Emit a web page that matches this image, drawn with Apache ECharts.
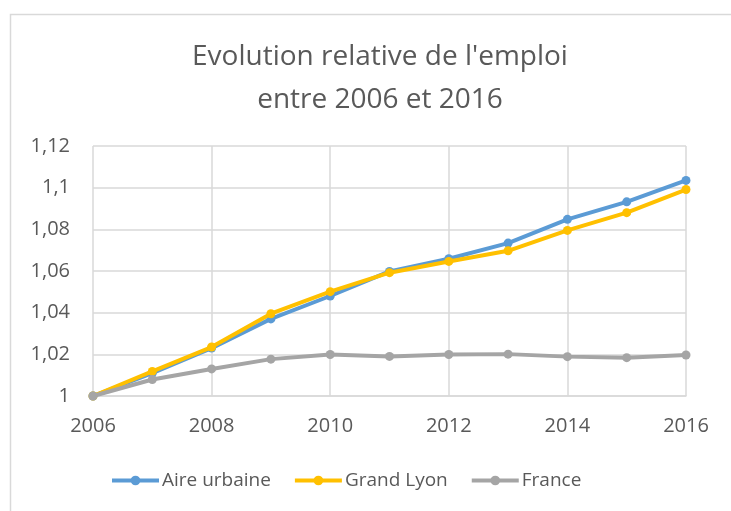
<!DOCTYPE html>
<html>
<head>
<meta charset="utf-8">
<script src="https://cdn.jsdelivr.net/npm/echarts@6/dist/echarts.min.js"></script>
<style>
  html, body { margin: 0; padding: 0; background: #fff; }
  #chart { width: 731px; height: 511px; }
</style>
</head>
<body>
<div id="chart"></div>
<script>
// Relative employment index (base 2006 = 1)
const years = [2006, 2007, 2008, 2009, 2010, 2011, 2012, 2013, 2014, 2015, 2016];
const aireUrbaine = [1, 1.011, 1.023, 1.037, 1.048, 1.0598, 1.0659, 1.0734, 1.0848, 1.0932, 1.1035];
const grandLyon   = [1, 1.0118, 1.0235, 1.0395, 1.0501, 1.0592, 1.0646, 1.0697, 1.0795, 1.088, 1.0991];
const france      = [1, 1.0079, 1.013, 1.0177, 1.0199, 1.019, 1.0199, 1.0201, 1.0189, 1.0184, 1.0197];
const seriesNames = ['Aire urbaine', 'Grand Lyon', 'France'];
const seriesColors = ['#5B9BD5', '#FFC000', '#A5A5A5'];

const FONT = '"Open Sans", sans-serif';
const TEXT = '#595959';

const chart = echarts.init(document.getElementById('chart'), null, { renderer: 'canvas' });

function pairs(vals) {
  return years.map((y, i) => [y, vals[i]]);
}

const seriesData = [aireUrbaine, grandLyon, france];

chart.setOption({
  animation: false,
  backgroundColor: '#fff',
  graphic: [{
    type: 'rect',
    shape: { x: 10.5, y: 14.5, width: 760, height: 520 },
    style: { fill: 'none', stroke: '#d9d9d9', lineWidth: 1.5 },
    silent: true
  }],
  title: {
    text: "Evolution relative de l'emploi\nentre 2006 et 2016",
    left: 375,
    textAlign: 'center',
    top: 31,
    textStyle: {
      fontFamily: FONT,
      fontSize: 28,
      fontWeight: 'normal',
      color: TEXT,
      lineHeight: 43
    }
  },
  grid: { left: 93, right: 45, top: 146, bottom: 115, containLabel: false },
  xAxis: {
    type: 'value',
    min: 2006,
    max: 2016,
    interval: 2,
    axisLine: { show: true, lineStyle: { color: '#d9d9d9', width: 1.5 } },
    axisTick: { show: false },
    splitLine: { show: true, lineStyle: { color: '#d9d9d9', width: 1.5 } },
    axisLabel: { fontFamily: FONT, fontSize: 20, color: TEXT, margin: 20, formatter: v => String(v) }
  },
  yAxis: {
    type: 'value',
    min: 1,
    max: 1.12,
    interval: 0.02,
    axisLine: { show: false },
    axisTick: { show: false },
    splitLine: { show: true, lineStyle: { color: '#d9d9d9', width: 1.5 } },
    axisLabel: {
      fontFamily: FONT, fontSize: 20, color: TEXT, margin: 23,
      formatter: v => String(Number(v.toFixed(2))).replace('.', ',')
    }
  },
  legend: {
    bottom: 16,
    left: 105,
    itemWidth: 47,
    itemHeight: 12,
    itemGap: 22,
    lineStyle: { width: 4 },
    textStyle: { fontFamily: FONT, fontSize: 19, color: TEXT, padding: [0, 0, 0, -2] },
    data: seriesNames
  },
  series: seriesNames.map((name, i) => ({
    name,
    type: 'line',
    data: pairs(seriesData[i]),
    color: seriesColors[i],
    symbol: 'circle',
    symbolSize: 9,
    lineStyle: { width: 4, color: seriesColors[i] },
    itemStyle: { color: seriesColors[i] },
    z: 2 + i
  }))
});
</script>
</body>
</html>
